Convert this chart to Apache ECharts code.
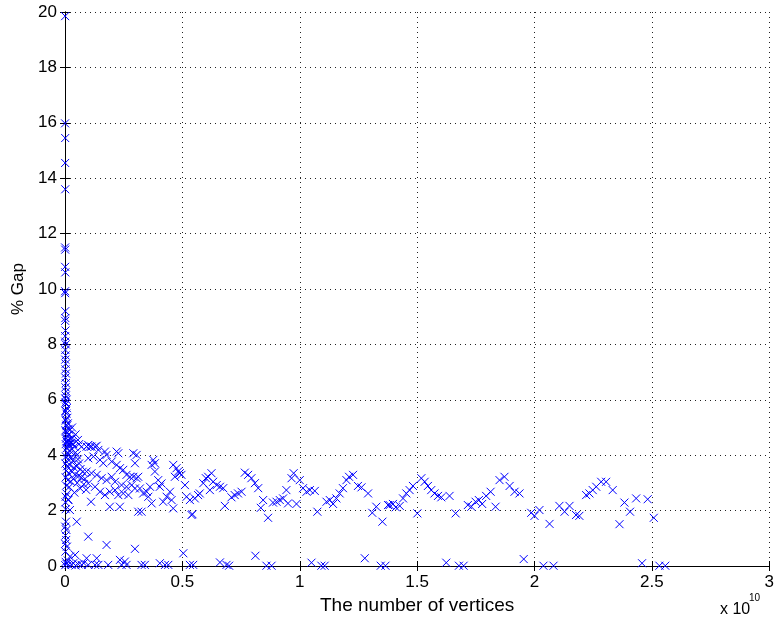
<!DOCTYPE html>
<html>
<head>
<meta charset="utf-8">
<script src="https://cdn.jsdelivr.net/npm/echarts/dist/echarts.min.js"></script>
<style>
  html, body { margin: 0; padding: 0; background: #fff; }
  #chart { width: 777px; height: 628px; }
</style>
</head>
<body>
<div id="chart"></div>
<script>
// x values are in units of 1e10 vertices, y is % gap
const xTicks = [0, 0.5, 1, 1.5, 2, 2.5, 3];
const yTicks = [0, 2, 4, 6, 8, 10, 12, 14, 16, 18, 20];

// spike of points hugging the y axis
const axisPts = [
  [0.0005, 19.85], [0.0003, 15.98], [0.0008, 15.45], [0.0006, 14.55], [0.001, 13.6],
  [0.0004, 11.5], [0.0009, 11.42], [0.0005, 10.8], [0.0012, 10.6], [0.0007, 9.85],
  [0.0004, 9.92], [0.001, 9.2], [0.0015, 8.95], [0.0006, 8.85], [0.002, 8.5],
  [0.0008, 8.3], [0.0012, 8.1], [0.003, 8.0], [0.0015, 7.8], [0.0025, 7.6],
  [0.001, 7.45], [0.003, 7.3], [0.002, 7.1], [0.004, 6.95], [0.0015, 6.8],
  [0.0035, 6.6], [0.002, 6.45], [0.005, 6.3], [0.003, 6.15], [0.001, 6.05],
  [0.006, 6.0], [0.004, 5.85], [0.008, 5.7], [0.002, 5.6], [0.006, 5.5],
  [0.01, 5.35], [0.003, 5.25], [0.012, 5.15], [0.007, 5.05], [0.015, 4.95],
  [0.004, 4.85], [0.018, 4.75], [0.009, 4.7], [0.022, 4.6], [0.013, 4.55],
  [0.006, 4.5], [0.028, 4.45], [0.017, 4.4], [0.02, 4.9], [0.03, 5.0],
  [0.045, 4.75], [0.055, 4.55], [0.06, 4.4], [0.07, 4.3]
];

// dense knot close to zero
const knotPts = [
  [0.002, 5.9], [0.004, 5.6], [0.003, 5.3], [0.006, 5.1], [0.002, 4.9],
  [0.008, 4.8], [0.005, 4.6], [0.011, 4.5], [0.003, 4.4], [0.014, 4.4],
  [0.007, 4.25], [0.019, 4.3], [0.025, 4.45], [0.03, 4.6], [0.035, 4.4],
  [0.01, 4.1], [0.016, 4.0], [0.022, 4.15], [0.04, 4.3], [0.045, 4.1],
  [0.05, 4.0], [0.004, 3.95], [0.012, 3.85], [0.027, 3.9], [0.033, 3.8],
  [0.055, 3.85], [0.06, 3.7], [0.002, 3.7], [0.009, 3.6], [0.02, 3.65],
  [0.038, 3.55], [0.048, 3.6], [0.066, 3.5], [0.075, 3.4], [0.006, 3.45],
  [0.015, 3.35], [0.03, 3.4], [0.043, 3.3], [0.058, 3.25], [0.07, 3.2],
  [0.085, 3.15], [0.003, 3.2], [0.012, 3.1], [0.025, 3.05], [0.036, 3.15],
  [0.052, 3.0], [0.08, 2.95], [0.005, 2.9], [0.018, 2.85], [0.065, 2.8],
  [0.09, 2.75], [0.008, 2.6], [0.04, 2.65], [0.002, 2.3], [0.014, 2.4],
  [0.003, 2.05], [0.021, 2.02], [0.003, 2.5], [0.014, 2.38]
];

// 0.09 .. 0.55
const nearPts = [
  [0.092, 4.31], [0.106, 4.31], [0.128, 4.31], [0.099, 4.37], [0.113, 4.31], [0.135, 4.34],
  [0.142, 4.19], [0.170, 4.13], [0.220, 4.13], [0.177, 4.01], [0.227, 4.07], [0.291, 4.07],
  [0.298, 3.71], [0.099, 3.89], [0.121, 3.95], [0.149, 3.83], [0.163, 3.71], [0.199, 3.77],
  [0.220, 3.65], [0.234, 3.53], [0.248, 3.47], [0.262, 3.29], [0.277, 3.22], [0.291, 3.22],
  [0.305, 3.17], [0.092, 3.41], [0.113, 3.35], [0.135, 3.29], [0.156, 3.17], [0.177, 3.10],
  [0.199, 3.22], [0.213, 3.04], [0.241, 2.92], [0.262, 2.86], [0.284, 2.92], [0.298, 2.80],
  [0.099, 2.98], [0.128, 2.86], [0.149, 2.68], [0.170, 2.56], [0.191, 2.68], [0.213, 2.74],
  [0.227, 2.56], [0.248, 2.62], [0.270, 2.56], [0.111, 2.32], [0.191, 2.14], [0.234, 2.14],
  [0.312, 1.96], [0.305, 4.01], [0.376, 3.83], [0.383, 3.71], [0.369, 3.65], [0.383, 3.41],
  [0.397, 3.10], [0.411, 2.98], [0.404, 2.86], [0.312, 3.22], [0.319, 2.80], [0.333, 2.62],
  [0.348, 2.68], [0.362, 2.86], [0.355, 2.50], [0.369, 2.26], [0.326, 1.96], [0.418, 2.32],
  [0.433, 2.50], [0.447, 2.68], [0.454, 2.38], [0.461, 2.08], [0.461, 3.65], [0.475, 3.53],
  [0.482, 3.41], [0.468, 3.22], [0.496, 3.29], [0.489, 3.35], [0.511, 2.92], [0.518, 2.50],
  [0.532, 2.38], [0.539, 1.84]
];

// 0.54 .. 2.51 band
const bandPts = [
  [0.543, 1.87], [0.553, 2.44], [0.567, 2.56], [0.574, 2.62], [0.589, 2.99], [0.600, 3.17],
  [0.610, 3.22], [0.624, 3.35], [0.617, 2.74], [0.631, 3.04], [0.646, 2.92], [0.660, 2.86],
  [0.674, 2.81], [0.681, 2.17], [0.709, 2.48], [0.723, 2.56], [0.737, 2.62], [0.752, 2.68],
  [0.766, 3.37], [0.780, 3.29], [0.794, 3.17], [0.809, 2.99], [0.823, 2.81], [0.844, 2.38],
  [0.834, 2.10], [0.865, 1.74], [0.886, 2.29], [0.901, 2.32], [0.915, 2.38], [0.929, 2.44],
  [0.943, 2.74], [0.950, 2.26], [0.965, 3.17], [0.974, 3.35], [0.986, 2.24], [1.000, 3.10],
  [1.014, 2.81], [1.029, 2.68], [1.043, 2.74], [1.064, 2.71], [1.075, 1.96], [1.114, 2.32],
  [1.128, 2.38], [1.142, 2.24], [1.156, 2.44], [1.170, 2.62], [1.184, 2.81], [1.199, 3.10],
  [1.210, 3.22], [1.227, 3.29], [1.248, 2.89], [1.263, 2.84], [1.291, 2.62], [1.309, 1.92],
  [1.326, 2.14], [1.352, 1.60], [1.376, 2.20], [1.383, 2.20], [1.397, 2.24], [1.409, 2.12],
  [1.426, 2.17], [1.440, 2.44], [1.454, 2.62], [1.468, 2.74], [1.482, 2.89], [1.501, 1.90],
  [1.518, 3.17], [1.532, 3.04], [1.546, 2.89], [1.560, 2.74], [1.574, 2.62], [1.589, 2.53],
  [1.603, 2.48], [1.638, 2.53], [1.664, 1.90], [1.716, 2.20], [1.731, 2.14], [1.749, 2.32],
  [1.763, 2.38], [1.777, 2.24], [1.794, 2.53], [1.813, 2.68], [1.834, 2.14], [1.851, 3.10],
  [1.872, 3.22], [1.894, 2.89], [1.915, 2.68], [1.936, 2.62], [1.986, 1.92], [2.000, 1.81],
  [2.021, 2.02], [2.064, 1.52], [2.106, 2.17], [2.128, 1.96], [2.149, 2.17], [2.177, 1.84],
  [2.191, 1.81], [2.220, 2.56], [2.234, 2.62], [2.248, 2.74], [2.263, 2.86], [2.284, 3.04],
  [2.305, 3.04], [2.333, 2.74], [2.362, 1.51], [2.383, 2.29], [2.407, 1.96], [2.433, 2.44],
  [2.482, 2.41], [2.508, 1.74]
];

// points sitting at or near zero gap
const floorPts = [
  [0.004, 1.6], [0.050, 1.60], [0.001, 1.42], [0.006, 1.3], [0.002, 1.1], [0.099, 1.06],
  [0.005, 0.94], [0.001, 0.8], [0.177, 0.76], [0.008, 0.7], [0.298, 0.62], [0.002, 0.52],
  [0.504, 0.46], [0.043, 0.40], [0.021, 0.34], [0.092, 0.28], [0.135, 0.28], [0.234, 0.22],
  [0.012, 0.2], [0.255, 0.16], [0.003, 0.15], [0.006, 0.08], [0.001, 0.03], [0.015, 0.05],
  [0.028, 0.04], [0.035, 0.1], [0.045, 0.02], [0.057, 0.06], [0.071, 0.04], [0.080, 0.1],
  [0.099, 0.04], [0.128, 0.04], [0.142, 0.04], [0.184, 0.04], [0.241, 0.04], [0.262, 0.04],
  [0.326, 0.04], [0.340, 0.04], [0.404, 0.10], [0.426, 0.04], [0.440, 0.04], [0.532, 0.04],
  [0.546, 0.04], [0.660, 0.13], [0.688, 0.04], [0.699, 0.01], [0.811, 0.37], [0.858, 0.01],
  [0.880, 0.01], [1.050, 0.12], [1.092, 0.01], [1.106, 0.01], [1.277, 0.28], [1.345, 0.01],
  [1.365, 0.01], [1.624, 0.12], [1.678, 0.01], [1.698, 0.01], [1.954, 0.25], [2.038, 0.01],
  [2.081, 0.01], [2.458, 0.10], [2.532, 0.01], [2.557, 0.01]
];

const allPts = [].concat(axisPts, knotPts, nearPts, bandPts, floorPts);

const font = 'Liberation Sans, Arial, Helvetica, sans-serif';
const gridLine = { show: true, lineStyle: { color: '#222', type: [1, 4], width: 1 } };

const chart = echarts.init(document.getElementById('chart'), null, { renderer: 'canvas' });
chart.setOption({
  animation: false,
  backgroundColor: '#fff',
  grid: { left: 65, right: 7, top: 12, bottom: 62, containLabel: false },
  xAxis: [
    {
      type: 'value', min: xTicks[0], max: xTicks[xTicks.length - 1], interval: 0.5,
      position: 'bottom',
      name: 'The number of vertices', nameLocation: 'middle', nameGap: 29,
      nameTextStyle: { color: '#000', fontSize: 19, fontFamily: font },
      axisLine: { lineStyle: { color: '#000', width: 1 } },
      axisTick: { inside: true, length: 5, lineStyle: { color: '#000' } },
      axisLabel: { color: '#000', fontSize: 17, fontFamily: font, margin: 8 },
      splitLine: gridLine
    },
    {
      type: 'value', min: xTicks[0], max: xTicks[xTicks.length - 1], interval: 0.5,
      position: 'top',
      axisLine: { lineStyle: { color: '#000', width: 1 } },
      axisTick: { inside: true, length: 5, lineStyle: { color: '#000' } },
      axisLabel: { show: false },
      splitLine: { show: false }
    }
  ],
  yAxis: [
    {
      type: 'value', min: yTicks[0], max: yTicks[yTicks.length - 1], interval: 2,
      position: 'left',
      name: '% Gap', nameLocation: 'middle', nameGap: 37, nameRotate: 90,
      nameTextStyle: { color: '#000', fontSize: 17, fontFamily: font },
      axisLine: { show: true, lineStyle: { color: '#000', width: 1 } },
      axisTick: { show: true, inside: true, length: 5, lineStyle: { color: '#000' } },
      axisLabel: { color: '#000', fontSize: 17, fontFamily: font, margin: 8 },
      splitLine: gridLine
    },
    {
      type: 'value', min: yTicks[0], max: yTicks[yTicks.length - 1], interval: 2,
      position: 'right',
      axisLine: { show: true, lineStyle: { color: '#000', width: 1 } },
      axisTick: { show: true, inside: true, length: 5, lineStyle: { color: '#000' } },
      axisLabel: { show: false },
      splitLine: { show: false }
    }
  ],
  graphic: [
    { type: 'text', left: 720, top: 602, style: { text: 'x 10', fill: '#000', font: '16px ' + font } },
    { type: 'text', left: 749, top: 593, style: { text: '10', fill: '#000', font: '10px ' + font } }
  ],
  series: [
    {
      type: 'scatter',
      data: allPts,
      clip: false,
      symbol: 'path://M0,0L10,10M10,0L0,10',
      symbolSize: 8,
      itemStyle: { color: 'rgba(0,0,0,0)', borderColor: '#0000ff', borderWidth: 1, opacity: 1 },
      emphasis: { disabled: true }
    }
  ]
});
</script>
</body>
</html>
